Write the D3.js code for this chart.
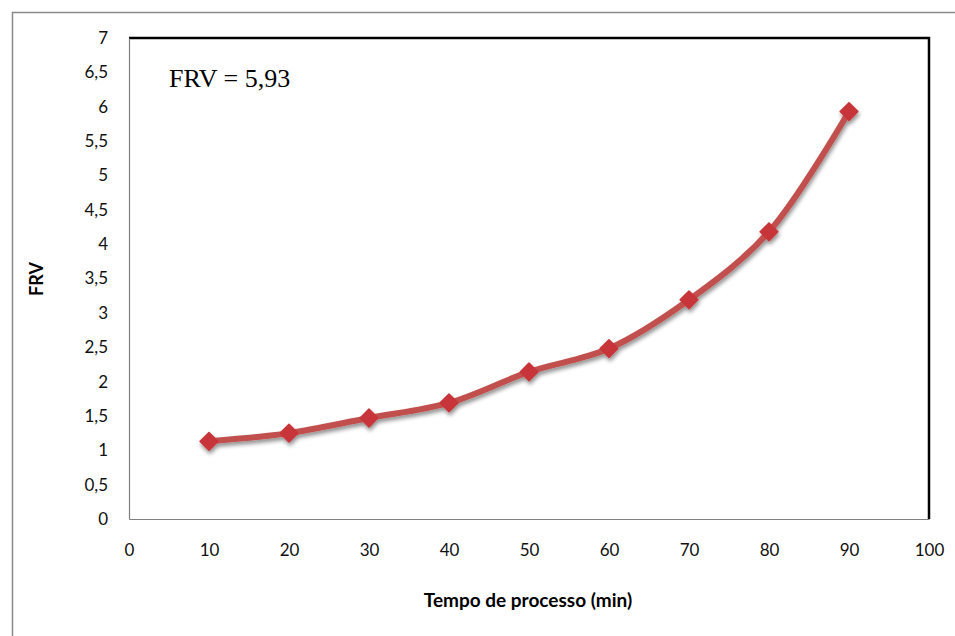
<!DOCTYPE html>
<html>
<head>
<meta charset="utf-8">
<script src="https://cdn.jsdelivr.net/npm/d3@7"></script>
<style>
  html, body { margin: 0; padding: 0; background: #fff; }
  svg { display: block; }
</style>
</head>
<body>
<svg id="chart" width="955" height="636"></svg>
<script>
// Process time (min) and FRV values
const times = [10, 20, 30, 40, 50, 60, 70, 80, 90];
const frv = [1.13, 1.25, 1.47, 1.69, 2.14, 2.48, 3.19, 4.18, 5.93];
const xTicks = [0, 10, 20, 30, 40, 50, 60, 70, 80, 90, 100];
const yTicks = [0, 0.5, 1, 1.5, 2, 2.5, 3, 3.5, 4, 4.5, 5, 5.5, 6, 6.5, 7];
const annotation = "FRV = 5,93";
const xTitle = "Tempo de processo (min)";
const yTitle = "FRV";

const svg = d3.select("#chart");
const plot = { left: 129, top: 38, right: 929, bottom: 519 };
const fmt = v => String(v).replace(".", ",");

const x = d3.scaleLinear().domain([0, 100]).range([plot.left, plot.right]);
const y = d3.scaleLinear().domain([0, 7]).range([plot.bottom, plot.top]);

// Drop shadow for the series
const defs = svg.append("defs");
const f = defs.append("filter").attr("id", "shadow")
  .attr("x", "-50%").attr("y", "-50%").attr("width", "200%").attr("height", "200%");
f.append("feGaussianBlur").attr("in", "SourceAlpha").attr("stdDeviation", 2).attr("result", "b");
f.append("feOffset").attr("in", "b").attr("dx", 1).attr("dy", 3).attr("result", "o");
f.append("feComponentTransfer").attr("in", "o").attr("result", "s")
  .append("feFuncA").attr("type", "linear").attr("slope", 0.45);
const m = f.append("feMerge");
m.append("feMergeNode").attr("in", "s");
m.append("feMergeNode").attr("in", "SourceGraphic");

// Outer frame (top and left edges)
svg.append("path")
  .attr("d", "M12.5,636 V12.5 H955")
  .attr("fill", "none").attr("stroke", "#8a8a8a").attr("stroke-width", 1.5);

// Plot area border: thick black top/right, thin grey left/bottom axes
svg.append("path")
  .attr("d", `M${plot.left},${plot.top} H${plot.right} V${plot.bottom}`)
  .attr("fill", "none").attr("stroke", "#000").attr("stroke-width", 2.5);

const xAxis = svg.append("g").attr("transform", `translate(0,${plot.bottom})`)
  .call(d3.axisBottom(x).tickValues(xTicks).tickSize(0).tickPadding(32).tickFormat(d => d));
const yAxis = svg.append("g").attr("transform", `translate(${plot.left},0)`)
  .call(d3.axisLeft(y).tickValues(yTicks).tickSize(0).tickPadding(21).tickFormat(fmt));
[xAxis, yAxis].forEach(a => {
  a.select(".domain").attr("stroke", "#7f7f7f").attr("stroke-width", 1.2);
  a.selectAll("text").attr("font-family", "Lato, 'Open Sans', sans-serif")
    .attr("font-size", 17).attr("fill", "#111");
});
xAxis.selectAll("text").attr("dy", "0.32em");

// Series line (smoothed) and diamond markers
const line = d3.line().x(d => x(d[0])).y(d => y(d[1])).curve(d3.curveCatmullRom.alpha(0.5));
const pts = times.map((t, i) => [t, frv[i]]);
const series = svg.append("g").attr("filter", "url(#shadow)");
series.append("path").datum(pts).attr("d", line)
  .attr("fill", "none").attr("stroke", "#c0504d").attr("stroke-width", 6)
  .attr("stroke-linejoin", "round").attr("stroke-linecap", "round");
series.selectAll("path.mk").data(pts).enter().append("path").attr("class", "mk")
  .attr("d", d3.symbol().type(d3.symbolDiamond2).size(200))
  .attr("transform", d => `translate(${x(d[0])},${y(d[1])})`)
  .attr("fill", "#c7363a").attr("stroke", "#c7363a").attr("stroke-width", 1.5)
  .attr("stroke-linejoin", "round");

// Annotation
svg.append("text").attr("x", 169).attr("y", 87)
  .attr("font-family", "'Liberation Serif', 'Times New Roman', serif")
  .attr("font-size", 26).attr("fill", "#000").text(annotation);

// Axis titles
svg.append("text").attr("x", 528).attr("y", 607).attr("text-anchor", "middle")
  .attr("font-family", "Lato, 'Open Sans', sans-serif").attr("font-weight", "bold")
  .attr("font-size", 19).attr("fill", "#000").text(xTitle);
svg.append("text").attr("transform", "translate(43,279) rotate(-90)").attr("text-anchor", "middle")
  .attr("font-family", "Lato, 'Open Sans', sans-serif").attr("font-weight", "bold")
  .attr("font-size", 18).attr("fill", "#000").text(yTitle);
</script>
</body>
</html>
